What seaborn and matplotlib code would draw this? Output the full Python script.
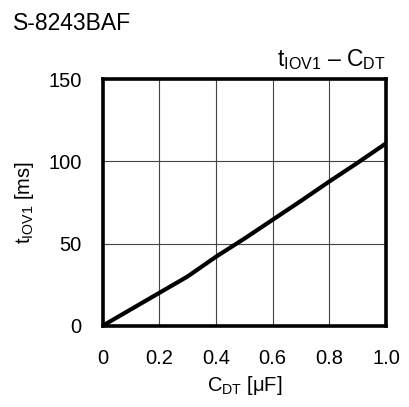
import matplotlib
matplotlib.use("Agg")
import matplotlib.pyplot as plt
import seaborn as sns
import pandas as pd

c_dt = [0.0, 0.1, 0.2, 0.3, 0.4, 0.5, 0.6, 0.7, 0.8, 0.9, 1.0]
t_iov1 = [0.0, 10.0, 20.0, 30.0, 42.0, 53.0, 64.5, 76.0, 87.8, 99.2, 111.0]
x_ticks = [0, 0.2, 0.4, 0.6, 0.8, 1.0]
x_tick_labels = ["0", "0.2", "0.4", "0.6", "0.8", "1.0"]
y_ticks = [0, 50, 100, 150]
y_tick_labels = ["0", "50", "100", "150"]

df = pd.DataFrame({"C_DT": c_dt, "t_IOV1": t_iov1})

sns.set_theme(style="white")
plt.rcParams["font.family"] = ["Liberation Sans", "DejaVu Sans"]
plt.rcParams["mathtext.fontset"] = "custom"
plt.rcParams["mathtext.rm"] = "Liberation Sans"
plt.rcParams["mathtext.it"] = "Liberation Sans"
plt.rcParams["mathtext.default"] = "regular"

fig = plt.figure(figsize=(4.09, 4.07), dpi=100)
ax = fig.add_axes([102.7 / 409, 1 - 325.7 / 407, (386 - 102.7) / 409, (325.7 - 79.3) / 407])

sns.lineplot(data=df, x="C_DT", y="t_IOV1", ax=ax, color="black", linewidth=3.0)

ax.set_xlim(0, 1.0)
ax.set_ylim(0, 150)
ax.set_xticks(x_ticks)
ax.set_xticklabels(x_tick_labels)
ax.set_yticks(y_ticks)
ax.set_yticklabels(y_tick_labels)
ax.grid(True, color="#444444", linewidth=0.8)
ax.tick_params(axis="both", length=0, pad=15, labelsize=14.5, colors="black")
ax.tick_params(axis="x", pad=17)
for s in ax.spines.values():
    s.set_linewidth(2.6)
    s.set_color("black")

ax.set_xlabel(r"$C_{DT}$ [μF]", fontsize=14.5, color="black", labelpad=4)
ax.set_ylabel(r"$t_{IOV1}$ [ms]", fontsize=14.5, color="black", labelpad=9)

fig.text(13 / 409, 1 - 23 / 407, "S-8243BAF", fontsize=16.5, ha="left", va="center", color="black")
ax.text(1.0, 1.03, r"$t_{IOV1}$ – $C_{DT}$", transform=ax.transAxes, fontsize=16.5,
        ha="right", va="bottom", color="black")

fig.savefig("out.png", dpi=100)
